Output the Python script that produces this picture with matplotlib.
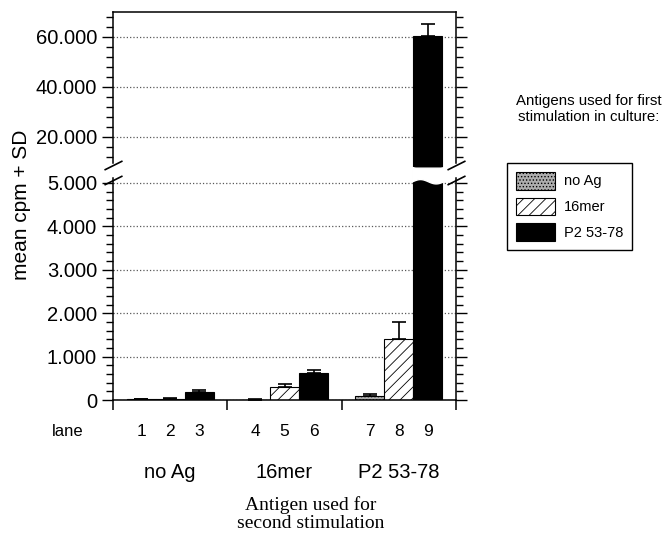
import matplotlib
matplotlib.use('Agg')
import numpy as np
import matplotlib.pyplot as plt
from matplotlib.patches import Patch
from matplotlib.ticker import FixedLocator, FuncFormatter
from matplotlib.transforms import blended_transform_factory

plt.rcParams['font.family'] = 'Liberation Sans'
plt.rcParams['hatch.linewidth'] = 0.6

# antigen used for the first stimulation (bar style) and second stimulation (groups)
first_stim = ['no Ag', '16mer', 'P2 53-78']
second_stim = ['no Ag', '16mer', 'P2 53-78']
lanes = [[1, 2, 3], [4, 5, 6], [7, 8, 9]]
# mean cpm, rows = second stimulation group, cols = first stimulation
mean_cpm = [[20, 30, 180],
            [10, 300, 620],
            [90, 1400, 60500]]
sd_cpm = [[5, 5, 60],
          [5, 70, 80],
          [40, 400, 4700]]

styles = [dict(facecolor='0.68', edgecolor='k', hatch='.....'),
          dict(facecolor='white', edgecolor='k', hatch='///'),
          dict(facecolor='black', edgecolor='k', hatch=None)]

W, H = 664, 538
fig = plt.figure(figsize=(W / 100, H / 100), dpi=100)
left, right = 113 / W, 456 / W
ax_top = fig.add_axes([left, 1 - 172 / H, right - left, 160 / H])
ax_bot = fig.add_axes([left, 1 - 400 / H, right - left, 228 / H])

bar_w = 0.254
top_lim = (6000, 70000)
bot_lim = (0, 5253)


def dotted(v):
    return f'{v:,.0f}'.replace(',', '.')


for ax in (ax_top, ax_bot):
    for g in range(3):
        for k in range(3):
            x = g + (k - 1) * bar_w
            ax.bar(x, mean_cpm[g][k], width=bar_w, linewidth=0.8, zorder=2, **styles[k])
            ax.errorbar(x, mean_cpm[g][k], yerr=[[0], [sd_cpm[g][k]]], fmt='none',
                        ecolor='k', elinewidth=1.2, capsize=5, capthick=1.2, zorder=3)
    ax.set_xlim(-0.5, 2.5)
    ax.yaxis.grid(True, which='major', linestyle=':', color='0.35', linewidth=0.9)
    ax.set_axisbelow(True)
    ax.tick_params(axis='y', which='both', direction='out', right=True, width=1)
    ax.tick_params(axis='y', which='major', length=8, labelsize=14.5)
    ax.tick_params(axis='y', which='minor', length=5)
    ax.yaxis.set_major_formatter(FuncFormatter(lambda v, p: dotted(v)))
    for s in ax.spines.values():
        s.set_linewidth(1.1)

# upper panel
ax_top.set_ylim(*top_lim)
ax_top.yaxis.set_major_locator(FixedLocator([20000, 40000, 60000]))
ax_top.yaxis.set_minor_locator(FixedLocator(np.arange(12000, 70001, 4000)))
ax_top.spines['bottom'].set_visible(False)
ax_top.spines['left'].set_bounds(9600, 70000)
ax_top.spines['right'].set_bounds(9600, 70000)
ax_top.set_xticks([])

# lower panel
ax_bot.set_ylim(*bot_lim)
ax_bot.yaxis.set_major_locator(FixedLocator(np.arange(0, 5001, 1000)))
ax_bot.yaxis.set_minor_locator(FixedLocator(np.arange(0, 5001, 200)))
ax_bot.spines['top'].set_visible(False)
ax_bot.spines['left'].set_bounds(0, 5120)
ax_bot.spines['right'].set_bounds(0, 5120)
ax_bot.set_xticks([-0.5, 0.5, 1.5, 2.5])
ax_bot.set_xticklabels([])
ax_bot.tick_params(axis='x', direction='out', length=7, width=1.1)

# wavy break through the tall bar
x9 = 2 + bar_w
xs = np.linspace(x9 - bar_w / 2 - 0.01, x9 + bar_w / 2 + 0.01, 60)
t = (xs - xs[0]) / (xs[-1] - xs[0])
ax_top.fill_between(xs, top_lim[0] - 500, 8000 - 1600 * np.sin(np.pi * t),
                    color='white', zorder=4, clip_on=False)
ax_bot.fill_between(xs, 5040 + 50 * np.sin(2 * np.pi * t), bot_lim[1] + 100,
                    color='white', zorder=4, clip_on=False)

# break marks on the spines
slash = [(-1, -0.5), (1, 0.5)]
for ax, yv in ((ax_top, 8900), (ax_bot, 5060)):
    tr = blended_transform_factory(ax.transAxes, ax.transData)
    ax.plot([0, 1], [yv, yv], transform=tr, marker=slash, markersize=13,
            linestyle='none', color='k', mec='k', mew=1.2, clip_on=False, zorder=5)

# lane numbers and group labels
trx = blended_transform_factory(ax_bot.transData, ax_bot.transAxes)
ax_bot.text(-0.9, -0.14, 'lane', transform=trx, ha='center', va='center', fontsize=12)
for g in range(3):
    for k in range(3):
        ax_bot.text(g + (k - 1) * bar_w, -0.14, str(lanes[g][k]), transform=trx,
                    ha='center', va='center', fontsize=12.5)
    ax_bot.text(g, -0.316, second_stim[g], transform=trx, ha='center', va='center', fontsize=14.5)

fig.text(311 / W, 1 - 514 / H, 'Antigen used for\nsecond stimulation', ha='center', va='center',
         fontsize=14, family='Liberation Serif', linespacing=1.05)
fig.text(22 / W, 1 - 205 / H, 'mean cpm + SD', rotation=90, ha='center', va='center', fontsize=15)

# legend
handles = [Patch(linewidth=0.8, **styles[k]) for k in range(3)]
fig.text(589 / W, 1 - 109 / H, 'Antigens used for first\nstimulation in culture:',
         ha='center', va='center', fontsize=10.8, linespacing=1.1)
fig.legend(handles, first_stim, loc='upper left', bbox_to_anchor=(507 / W, 1 - 163 / H),
           fancybox=False, edgecolor='k', framealpha=1, fontsize=10.5,
           handlelength=2.7, handleheight=1.5, borderaxespad=0, borderpad=0.6,
           labelspacing=0.55, handletextpad=0.6)

fig.savefig('out.png', dpi=100)
